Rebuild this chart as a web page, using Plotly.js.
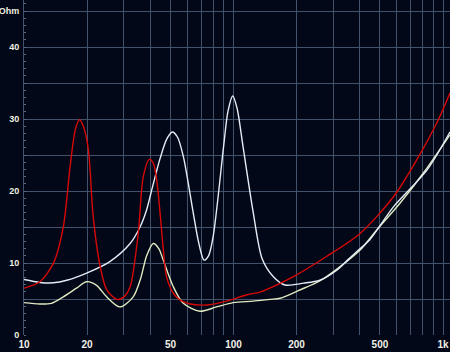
<!DOCTYPE html>
<html>
<head>
<meta charset="utf-8">
<script src="https://cdn.plot.ly/plotly-3.0.1.min.js"></script>
<style>html,body{margin:0;padding:0;background:#020817;}#chart{width:450px;height:352px;}</style>
</head>
<body>
<div id="chart"></div>
<script>
// Red curve
const redFreq = [10, 11.9, 13.8, 15.4, 16.6, 17.6, 18.4, 19.3, 20.3, 21.4, 23.1, 24.8, 27.7, 30, 32.1, 35.1, 37.1, 39.7, 41.5, 43, 44.6, 46.2, 47.9, 51.6, 56, 62.1, 74.6, 92.8, 115, 134, 149, 193, 278, 402, 580, 748, 950, 1079];
const redOhm  = [6.5, 7.4, 9.95, 15.0, 23.4, 28.6, 29.9, 28.8, 25.7, 16.4, 9.5, 6.3, 4.95, 5.3, 6.7, 14.1, 22.0, 24.4, 23.8, 21.5, 17.0, 12.0, 8.1, 5.8, 4.8, 4.3, 4.17, 4.7, 5.55, 5.95, 6.5, 8.1, 10.9, 14.1, 19.2, 24.3, 29.9, 33.6];
// White curve
const whiteFreq = [10, 11.9, 13.8, 16, 19.9, 25.7, 32.1, 35.8, 38.5, 41, 44.6, 48, 51, 54, 57.6, 64.3, 68, 72.3, 76, 80, 89.7, 94, 99.2, 104, 111, 124.4, 137, 155, 176, 216, 258, 311, 350, 388, 446, 580, 838, 1079];
const whiteOhm  = [7.7, 7.3, 7.25, 7.6, 8.6, 10.2, 12.7, 15.0, 17.4, 20.5, 24.5, 27.2, 28.2, 27.5, 24.8, 16.9, 13.0, 10.4, 11.0, 13.7, 26.2, 31.0, 33.2, 31.5, 26.2, 16.9, 10.6, 8.1, 6.95, 7.2, 7.6, 9.0, 10.4, 11.6, 13.2, 17.8, 22.9, 28.2];
// Yellow curve
const yellowFreq = [10, 11.9, 13.5, 15.4, 17.8, 19.9, 22.2, 24.8, 28.7, 33.2, 36, 38.5, 41.4, 44, 46.2, 51.6, 57.6, 69.2, 83, 99.6, 124, 149, 167, 207, 258, 323, 402, 483, 623, 806, 1079];
const yellowOhm  = [4.5, 4.3, 4.4, 5.3, 6.5, 7.4, 6.9, 5.3, 3.9, 5.3, 7.8, 11.0, 12.7, 12.0, 10.4, 6.7, 4.4, 3.3, 3.9, 4.5, 4.7, 4.95, 5.1, 6.25, 7.5, 9.5, 11.8, 14.6, 18.3, 22.5, 27.8];

const xTickVals = [10,20,30,40,50,60,70,80,90,100,200,300,400,500,600,700,800,900,1000];
const xTickText = ['10','20','','','50','','','','','100','200','','','500','','','','','1k'];
const yTickVals = [0,5,10,15,20,25,30,35,40,45];
const yTickText = ['0','','10','','20','','30','','40','Ohm'];

const traces = [
  {x: yellowFreq, y: yellowOhm, mode:'lines', line:{color:'#dfe8c0', width:1.4, shape:'spline', smoothing:0.8}},
  {x: whiteFreq, y: whiteOhm, mode:'lines', line:{color:'#e4ecf6', width:1.4, shape:'spline', smoothing:0.8}},
  {x: redFreq, y: redOhm, mode:'lines', line:{color:'#d80808', width:1.4, shape:'spline', smoothing:0.8}}
];

const gridColor = '#42526a';
const layout = {
  width:450, height:352,
  margin:{l:24, r:0, t:0, b:17, pad:0},
  paper_bgcolor:'#020817', plot_bgcolor:'#020817',
  showlegend:false,
  xaxis:{type:'log', range:[1, 3.0334], tickvals:xTickVals, ticktext:xTickText,
    showgrid:true, gridcolor:gridColor, gridwidth:1, zeroline:false, showline:false,
    ticks:'', ticklabelstandoff:2, ticklabeloverflow:'allow',
    tickfont:{family:'Liberation Sans', size:10, color:'#f0f0e8', weight:'bold'}, fixedrange:true},
  yaxis:{range:[0, 46.53], tickvals:yTickVals, ticktext:yTickText,
    showgrid:true, gridcolor:gridColor, gridwidth:1, zeroline:false,
    showline:true, linecolor:gridColor, linewidth:1,
    ticks:'', ticklabelstandoff:2, ticklabeloverflow:'allow',
    minor:{dtick:1, ticks:'inside', ticklen:2, tickcolor:'#5a6a80', showgrid:false},
    tickfont:{family:'Liberation Sans', size:9, color:'#f0f0e0', weight:'bold'}, fixedrange:true},
  hovermode:false
};

Plotly.newPlot('chart', traces, layout, {staticPlot:true, displayModeBar:false});
</script>
</body>
</html>
